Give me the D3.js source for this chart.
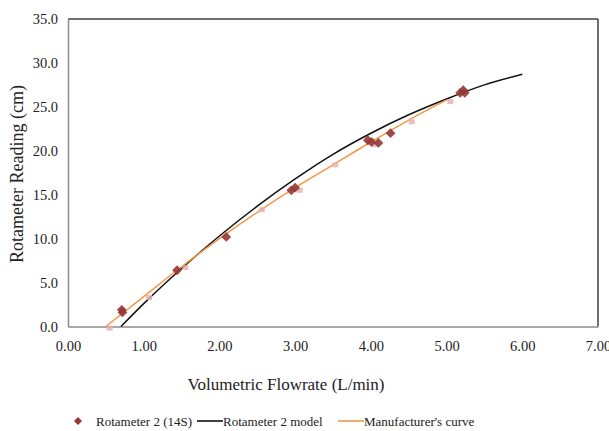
<!DOCTYPE html>
<html><head><meta charset="utf-8">
<script src="https://cdn.jsdelivr.net/npm/d3@7"></script>
<style>body{margin:0;background:#fff}svg{display:block}</style>
</head><body><svg id="c" width="609" height="431"></svg>
<script>
const measFlow   = [0.71, 0.72, 1.44, 2.09, 2.95, 3.00, 3.96, 4.01, 4.10, 4.26, 5.18, 5.22, 5.24];
const measRead   = [1.9, 1.6, 6.4, 10.2, 15.5, 15.8, 21.2, 21.0, 20.9, 22.0, 26.6, 26.9, 26.6];
const mfgPtFlow  = [0.55, 1.07, 1.55, 2.56, 3.06, 3.53, 4.06, 4.54, 5.05];
const mfgPtRead  = [-0.2, 3.3, 6.7, 13.3, 15.5, 18.4, 20.7, 23.3, 25.6];
const modelFlow  = [0.70, 1.0, 1.5, 2.0, 2.5, 3.0, 3.5, 4.0, 4.5, 5.0, 5.5, 6.0];
const modelRead  = [0.0, 2.6, 6.6, 10.3, 13.7, 16.8, 19.6, 22.0, 24.1, 25.9, 27.5, 28.7];
const mfgFlow    = [0.50, 1.0, 1.5, 2.0, 2.5, 3.0, 3.5, 4.0, 4.5, 5.0];
const mfgRead    = [0.0, 3.4, 6.8, 10.0, 13.0, 15.8, 18.4, 21.0, 23.5, 25.8];
const xTicks = [0,1,2,3,4,5,6,7];
const yTicks = [0,5,10,15,20,25,30,35];
const legendLabels = ["Rotameter 2 (14S)", "Rotameter 2 model", "Manufacturer's curve"];

const FONT = '"Times New Roman", Times, "Liberation Serif", Tinos, "Noto Serif", "DejaVu Serif", serif';
const svg = d3.select("#c");
const L = 68, R = 598, T = 19, B = 326.5;
const x = d3.scaleLinear().domain([0,7]).range([L,R]);
const y = d3.scaleLinear().domain([0,35]).range([B,T]);

svg.append("line").attr("x1",L).attr("x2",R).attr("y1",T).attr("y2",T).attr("stroke","#404040").attr("stroke-width",1.5);
svg.append("line").attr("x1",R).attr("x2",R).attr("y1",T).attr("y2",B).attr("stroke","#404040").attr("stroke-width",1.5);

const xAxis = d3.axisBottom(x).tickValues(xTicks).tickFormat(d3.format(".2f")).tickSize(0).tickPadding(14);
const yAxis = d3.axisLeft(y).tickValues(yTicks).tickFormat(d3.format(".1f")).tickSize(0).tickPadding(10);
const gx = svg.append("g").attr("transform",`translate(0,${B})`).call(xAxis);
const gy = svg.append("g").attr("transform",`translate(${L},0)`).call(yAxis);
[gx,gy].forEach(g=>{
  g.attr("font-family",FONT).attr("font-size","14.5");
  g.select(".domain").attr("stroke","#8c8c8c").attr("stroke-width",1.5);
  g.selectAll("text").attr("font-family",FONT).attr("font-size","14.5").attr("fill","#222");
});

const line = d3.line().x(d=>x(d[0])).y(d=>y(d[1])).curve(d3.curveMonotoneX);
svg.append("path").datum(modelFlow.map((f,i)=>[f,modelRead[i]])).attr("d",line)
  .attr("fill","none").attr("stroke","#111").attr("stroke-width",1.5);
svg.append("path").datum(mfgFlow.map((f,i)=>[f,mfgRead[i]])).attr("d",line)
  .attr("fill","none").attr("stroke","#f79646").attr("stroke-width",1.5);

svg.append("g").selectAll("rect").data(mfgPtFlow.map((f,i)=>[f,mfgPtRead[i]])).join("rect")
  .attr("x",d=>x(d[0])-3).attr("y",d=>y(d[1])-2.5).attr("width",6).attr("height",5)
  .attr("fill","#e3b0b0").attr("opacity",0.8);

const diamond = d3.symbol().type(d3.symbolSquare).size(48);
svg.append("g").selectAll("path").data(measFlow.map((f,i)=>[f,measRead[i]])).join("path")
  .attr("d",diamond).attr("transform",d=>`translate(${x(d[0])},${y(d[1])}) rotate(45)`)
  .attr("fill","#953735").attr("opacity",0.9);

function txt(xp, yp, s, size, anchor, rot){
  const t = svg.append("text").attr("x",xp).attr("y",yp).attr("text-anchor",anchor||"start")
    .attr("font-family",FONT).attr("font-size",size).attr("fill","#222").text(s);
  if (rot) t.attr("x",0).attr("y",0).attr("transform",`translate(${xp},${yp}) rotate(${rot})`);
  return t;
}
txt(286, 390, "Volumetric Flowrate (L/min)", "17", "middle");
txt(23, 174, "Rotameter Reading (cm)", "18", "middle", -90);

const ly = 421;
svg.append("path").attr("d",d3.symbol().type(d3.symbolSquare).size(32)).attr("transform",`translate(78,${ly}) rotate(45)`).attr("fill","#953735");
txt(96, ly+4.5, legendLabels[0], "13");
svg.append("line").attr("x1",197).attr("x2",223).attr("y1",ly).attr("y2",ly).attr("stroke","#111").attr("stroke-width",1.6);
txt(223, ly+4.5, legendLabels[1], "13");
svg.append("line").attr("x1",338).attr("x2",364).attr("y1",ly).attr("y2",ly).attr("stroke","#f79646").attr("stroke-width",1.6);
txt(364, ly+4.5, legendLabels[2], "13");
</script></body></html>
